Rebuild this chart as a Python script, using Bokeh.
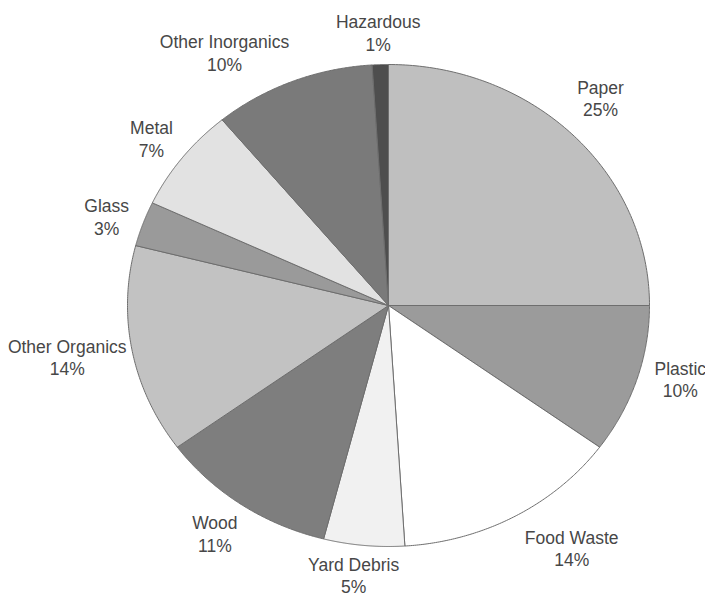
import numpy as np
from bokeh.plotting import figure
from bokeh.models import Range1d, ColumnDataSource
from bokeh.core.properties import value
from bokeh.embed import file_html
from bokeh.resources import INLINE

# Waste composition, clockwise from 12 o'clock
categories = ["Paper", "Plastic", "Food Waste", "Yard Debris", "Wood",
              "Other Organics", "Glass", "Metal", "Other Inorganics", "Hazardous"]
percents = [25, 10, 14, 5, 11, 14, 3, 7, 10, 1]
fills = ["#bfbfbf", "#9b9b9b", "#ffffff", "#f1f1f1", "#7e7e7e",
         "#c2c2c2", "#9a9a9a", "#e2e2e2", "#7a7a7a", "#4e4e4e"]

# label placement: distance in pie radii and a small angular nudge (degrees)
label_dist = [1.18, 1.16, 1.23, 1.13, 1.16, 1.25, 1.14, 1.14, 1.22, 1.13]
label_nudge = [1.5, 2.5, 6.0, -1.4, -0.8, -0.8, 1.1, 0.6, 9.4, 0.2]

W, H = 705, 596
CX, CY = 388, 305        # pie centre in pixels
RX, RY = 261, 241        # pie radii in pixels (slightly oval)

p = figure(width=W, height=H, output_backend="svg", toolbar_location=None,
           x_range=Range1d(-CX / RX, (W - CX) / RX),
           y_range=Range1d(-(H - CY) / RY, CY / RY),
           min_border=0, outline_line_color=None, background_fill_color="white")
p.axis.visible = False
p.grid.visible = False

vals = np.array(percents, dtype=float)
bounds = np.concatenate([[0.0], np.cumsum(vals)]) / vals.sum()
# clockwise from the top: angle = pi/2 - 2*pi*fraction
theta = np.pi / 2 - 2 * np.pi * bounds

xs, ys = [], []
for a0, a1 in zip(theta[:-1], theta[1:]):
    t = np.linspace(a0, a1, 120)
    xs.append(np.concatenate([[0.0], np.cos(t), [0.0]]))
    ys.append(np.concatenate([[0.0], np.sin(t), [0.0]]))

p.patches(xs=xs, ys=ys, fill_color=fills, line_color="#6e6e6e", line_width=1)

mid = (theta[:-1] + theta[1:]) / 2 + np.radians(label_nudge)
dist = np.array(label_dist)
labels = [f"{c}\n{v}%" for c, v in zip(categories, percents)]
src = ColumnDataSource(dict(x=dist * np.cos(mid), y=dist * np.sin(mid), t=labels))
p.text(x="x", y="y", text="t", source=src, text_align="center", text_baseline="middle",
       text_font=value("Liberation Sans"), text_font_size="17.5px",
       text_color="#474747", text_line_height=1.12)

open("out.html", "w").write(file_html(p, INLINE))
